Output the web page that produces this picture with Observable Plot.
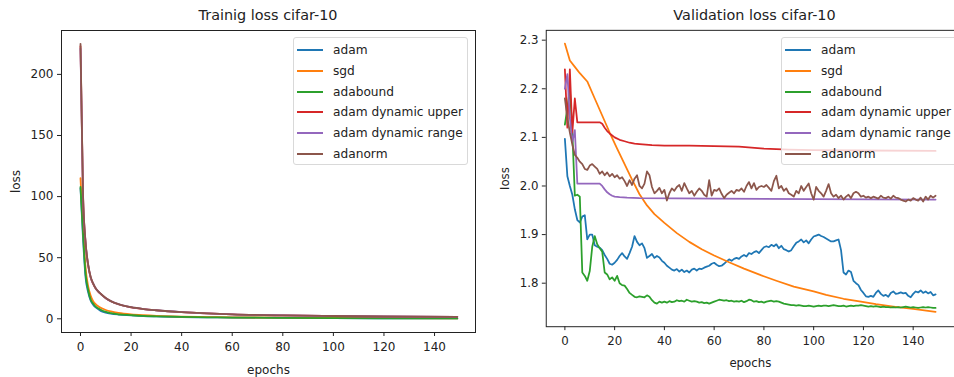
<!DOCTYPE html>
<html>
<head>
<meta charset="utf-8">
<script src="https://cdn.jsdelivr.net/npm/d3@7"></script>
<script src="https://cdn.jsdelivr.net/npm/@observablehq/plot@0.6"></script>
<style>
  html, body { margin: 0; padding: 0; background: #fff; }
  #wrap { position: relative; width: 954px; height: 377px; overflow: hidden; font-family: "DejaVu Sans", sans-serif; color: #222; }
  .title { position: absolute; top: 7px; text-align: center; font-size: 14.4px; line-height: 17px; white-space: nowrap; }
  .panel { position: absolute; top: 22px; }
  .legend { position: absolute; top: 37px; height: 128px; background: rgba(255,255,255,0.8); border: 1px solid #d9d9d9; border-radius: 3px; box-sizing: border-box; }
  .row { position: absolute; left: 3px; height: 16px; font-size: 12.2px; line-height: 16px; white-space: nowrap; }
  .row .h { position: absolute; left: 0; top: 7px; width: 26px; height: 2px; }
  .row .t { position: absolute; left: 36px; top: 0; }
</style>
</head>
<body>
<div id="wrap"></div>
<script>
// ---------------- data ----------------
const seriesNames = ["adam", "sgd", "adabound", "adam dynamic upper", "adam dynamic range", "adanorm"];
const seriesColors = ["#1f77b4", "#ff7f0e", "#2ca02c", "#d62728", "#9467bd", "#8c564b"];
const xTicks = [0, 20, 40, 60, 80, 100, 120, 140];
const trainYTicks = [0, 50, 100, 150, 200];
const valYTicks = [1.8, 1.9, 2.0, 2.1, 2.2, 2.3];

// Training loss (sampled epochs, smooth curves)
const trainEpochs   = [0, 1, 2, 3, 4, 5, 6, 7, 8, 10, 12, 15, 20, 25, 30, 40, 50, 60, 80, 100, 120, 149];
const trainAdam     = [107, 66, 34, 22, 15, 11.5, 9.3, 7.9, 6.4, 5.0, 4.2, 3.5, 2.9, 2.3, 2.0, 1.5, 1.2, 1.0, 0.75, 0.55, 0.45, 0.3];
const trainSgd      = [115, 75, 42, 27, 19, 14.5, 12, 10.3, 9.0, 7.2, 6.0, 4.8, 3.6, 2.9, 2.4, 1.8, 1.45, 1.2, 0.9, 0.7, 0.55, 0.45];
const trainAdabound = [108, 70, 37, 24, 16, 12.5, 10, 8.6, 7.4, 5.6, 4.6, 3.7, 3.0, 2.4, 2.05, 1.55, 1.25, 1.05, 0.8, 0.6, 0.48, 0.35];
const trainUpper    = [223, 101, 62, 44, 34, 28.5, 24.8, 22.2, 20.3, 16.8, 14.4, 11.9, 9.4, 7.9, 6.9, 5.4, 4.4, 3.6, 2.75, 2.25, 1.85, 1.55];
const trainRange    = [221, 100, 62.5, 44.5, 34, 29, 25, 22.4, 20.4, 16.9, 14.5, 12, 9.5, 8.0, 7.0, 5.5, 4.45, 3.65, 2.8, 2.3, 1.9, 1.6];
const trainAdanorm  = [225, 102, 63, 45, 34.5, 29, 25, 22.5, 20.5, 17, 14.5, 12, 9.5, 8.0, 7.0, 5.5, 4.5, 3.7, 2.8, 2.3, 1.9, 1.6];

// Validation loss, per epoch 0..149
const valEpochs = d3.range(150);
const valAdam = [
  2.097, 2.02, 2.0, 1.982, 1.952, 1.93, 1.925, 1.937, 1.94, 1.89,
  1.9, 1.9, 1.878, 1.875, 1.873, 1.868, 1.858, 1.85, 1.84, 1.838,
  1.842, 1.848, 1.856, 1.862, 1.855, 1.85, 1.862, 1.875, 1.897, 1.885,
  1.878, 1.882, 1.872, 1.852, 1.856, 1.86, 1.852, 1.856, 1.853, 1.846,
  1.842, 1.836, 1.832, 1.828, 1.826, 1.829, 1.824, 1.828, 1.823, 1.826,
  1.822, 1.828, 1.83, 1.826, 1.83, 1.829, 1.832, 1.834, 1.836, 1.84,
  1.842, 1.838, 1.835, 1.836, 1.84, 1.845, 1.849, 1.846, 1.85, 1.852,
  1.85, 1.855, 1.858, 1.855, 1.862, 1.86, 1.864, 1.866, 1.862, 1.868,
  1.874, 1.876, 1.874, 1.879, 1.876, 1.88, 1.872, 1.877, 1.87, 1.868,
  1.865, 1.868, 1.876, 1.883, 1.886, 1.89, 1.884, 1.888, 1.882, 1.89,
  1.896, 1.898, 1.9, 1.897, 1.895, 1.892, 1.889, 1.886, 1.886, 1.888,
  1.89, 1.868, 1.822, 1.818, 1.826, 1.823, 1.805, 1.8, 1.796, 1.786,
  1.78, 1.773, 1.772, 1.774, 1.772, 1.78, 1.785, 1.778, 1.774, 1.776,
  1.772, 1.78, 1.783, 1.778, 1.779, 1.781, 1.779, 1.78, 1.774, 1.771,
  1.778, 1.783, 1.781, 1.785, 1.78, 1.783, 1.779, 1.782, 1.775, 1.777
];
const valAdabound = [
  2.126, 2.16, 2.2, 2.11, 1.98, 1.982, 1.978, 1.822, 1.815, 1.805,
  1.825, 1.875, 1.897, 1.88, 1.872, 1.865, 1.822, 1.818, 1.808, 1.812,
  1.805, 1.815, 1.8, 1.796, 1.795, 1.788, 1.78, 1.776, 1.772, 1.771,
  1.773, 1.772, 1.771, 1.775, 1.772, 1.765, 1.76, 1.758, 1.762, 1.76,
  1.762, 1.76, 1.763, 1.761, 1.762, 1.765, 1.763, 1.764, 1.762, 1.766,
  1.764, 1.762, 1.763, 1.762, 1.76, 1.761, 1.759, 1.76, 1.758, 1.76,
  1.762, 1.764, 1.766, 1.765, 1.764, 1.765, 1.763, 1.764, 1.762, 1.763,
  1.762, 1.764, 1.761, 1.763, 1.766, 1.765, 1.762, 1.763, 1.761, 1.762,
  1.76, 1.762, 1.763, 1.764, 1.762, 1.763, 1.762, 1.76, 1.758, 1.757,
  1.756, 1.755, 1.755, 1.754, 1.755, 1.754, 1.753, 1.753, 1.754, 1.753,
  1.752, 1.753, 1.754, 1.753, 1.754, 1.754, 1.753, 1.754, 1.755, 1.754,
  1.753, 1.753, 1.754, 1.752, 1.753, 1.754, 1.753, 1.754, 1.754, 1.755,
  1.754, 1.753, 1.752, 1.753, 1.752, 1.753, 1.752, 1.751, 1.752, 1.751,
  1.751, 1.75, 1.751, 1.75, 1.751, 1.75, 1.751, 1.752, 1.751, 1.75,
  1.751, 1.75, 1.749, 1.75, 1.751, 1.75, 1.751, 1.75, 1.749, 1.749
];
const valAdanorm = [
  2.18, 2.14, 2.11, 2.085, 2.064, 2.058, 2.05, 2.045, 2.035, 2.033,
  2.042, 2.045, 2.04, 2.035, 2.025, 2.03, 2.022, 2.028, 2.02, 2.025,
  2.018, 2.022, 2.015, 2.018, 2.01, 2.0, 2.012, 2.002, 2.015, 2.022,
  2.0, 1.995, 2.005, 2.03, 2.022, 1.998, 1.985, 1.99, 1.996, 1.985,
  1.992, 1.97, 1.985, 1.995, 1.99, 1.998, 2.002, 1.99, 2.006, 1.995,
  1.985, 1.99, 1.98, 1.988, 1.995, 1.99, 1.982, 1.978, 2.012, 1.98,
  1.992, 1.99, 1.995, 1.984, 1.975, 1.982, 1.986, 1.99, 1.985, 1.992,
  1.99, 1.995, 1.988, 2.0, 2.008, 1.995, 2.006, 1.992, 1.998, 2.0,
  1.998, 2.002, 1.996, 1.99, 2.01, 2.021, 1.995, 2.0, 1.99, 1.995,
  1.985, 1.982, 1.978, 1.99, 1.985, 2.0, 1.99, 1.998, 2.005, 1.985,
  1.972, 1.998, 1.99, 1.985, 1.978, 1.99, 2.004, 1.985, 1.978, 1.982,
  1.975, 1.98, 1.972, 1.978, 1.982, 1.975, 1.985, 1.988, 1.985, 1.978,
  1.98, 1.976, 1.978, 1.975, 1.978, 1.976, 1.974, 1.98, 1.976, 1.975,
  1.978, 1.974, 1.98, 1.976, 1.975, 1.972, 1.97, 1.968, 1.972, 1.97,
  1.975, 1.972, 1.97, 1.976, 1.968, 1.978, 1.972, 1.98, 1.976, 1.98
];
// smoother validation series (sampled epochs)
const valSgdEpochs = [0, 2, 4, 6, 9, 12, 15, 18, 21, 24, 27, 30, 33, 36, 40, 45, 50, 55, 60, 66, 72, 79, 85, 92, 100, 105, 112, 119, 125, 132, 140, 149];
const valSgd       = [2.293, 2.258, 2.245, 2.232, 2.215, 2.18, 2.145, 2.11, 2.077, 2.045, 2.013, 1.983, 1.96, 1.942, 1.924, 1.903, 1.885, 1.87, 1.857, 1.843, 1.83, 1.816, 1.805, 1.793, 1.783, 1.776, 1.768, 1.762, 1.757, 1.752, 1.747, 1.741];
const valUpperEpochs = [0, 1, 2, 3, 4, 5, 14, 15, 16, 17, 18, 19, 20, 22, 24, 26, 28, 30, 35, 40, 50, 60, 70, 80, 90, 100, 120, 149];
const valUpper       = [2.24, 2.12, 2.24, 2.11, 2.18, 2.131, 2.131, 2.128, 2.12, 2.113, 2.108, 2.104, 2.1, 2.095, 2.092, 2.089, 2.087, 2.086, 2.084, 2.083, 2.083, 2.082, 2.081, 2.077, 2.075, 2.074, 2.073, 2.072];
const valRangeEpochs = [0, 1, 2, 3, 4, 5, 14, 15, 16, 17, 18, 19, 20, 22, 25, 30, 60, 100, 149];
const valRange       = [2.2, 2.23, 2.14, 2.09, 2.115, 2.005, 2.005, 2.0, 1.993, 1.987, 1.983, 1.98, 1.978, 1.977, 1.976, 1.975, 1.974, 1.973, 1.972];

// ---------------- build ----------------
const trainSeries = [
  [trainEpochs, trainAdam], [trainEpochs, trainSgd], [trainEpochs, trainAdabound],
  [trainEpochs, trainUpper], [trainEpochs, trainRange], [trainEpochs, trainAdanorm]
];
const valSeries = [
  [valEpochs, valAdam], [valSgdEpochs, valSgd], [valEpochs, valAdabound],
  [valUpperEpochs, valUpper], [valRangeEpochs, valRange], [valEpochs, valAdanorm]
];
const toRows = (xs, ys) => xs.map((e, i) => ({epoch: e, loss: ys[i]}));

const font = {fontFamily: "DejaVu Sans, sans-serif", fontSize: "12px", color: "#222", background: "transparent", overflow: "visible"};

function panel({width, marginLeft, marginRight, xDomain, yDomain, yTicks, yFmt, series, curve, yLabelOffset}) {
  return Plot.plot({
    width, height: 355, marginLeft, marginRight, marginTop: 8, marginBottom: 45,
    style: font,
    x: {domain: xDomain},
    y: {domain: yDomain},
    marks: [
      ...series.map(([xs, ys], i) => Plot.line(toRows(xs, ys), {
        x: "epoch", y: "loss", stroke: seriesColors[i], strokeWidth: 1.8, curve
      })),
      Plot.frame({stroke: "#222", strokeWidth: 1}),
      Plot.axisX({ticks: xTicks, tickSize: 4, tickPadding: 6, tickFormat: d => String(d),
        label: "epochs", labelAnchor: "center", labelOffset: 41, labelArrow: false}),
      Plot.axisY({ticks: yTicks, tickSize: 4, tickPadding: 4, tickFormat: yFmt,
        label: "loss", labelAnchor: "center", labelOffset: yLabelOffset, labelArrow: false})
    ]
  });
}

const wrap = document.getElementById("wrap");

function addTitle(text, left, width) {
  const d = document.createElement("div");
  d.className = "title"; d.textContent = text;
  d.style.left = left + "px"; d.style.width = width + "px";
  wrap.appendChild(d);
}
function addPanel(node, left) {
  const d = document.createElement("div");
  d.className = "panel"; d.style.left = left + "px";
  d.appendChild(node); wrap.appendChild(d);
}
function addLegend(left, width) {
  const lg = document.createElement("div");
  lg.className = "legend"; lg.style.left = left + "px"; lg.style.width = width + "px";
  seriesNames.forEach((name, i) => {
    const r = document.createElement("div");
    r.className = "row"; r.style.top = (4 + i * 20.8) + "px";
    const h = document.createElement("div"); h.className = "h"; h.style.background = seriesColors[i];
    const t = document.createElement("div"); t.className = "t"; t.textContent = name;
    r.appendChild(h); r.appendChild(t); lg.appendChild(r);
  });
  wrap.appendChild(lg);
}

addTitle("Trainig loss cifar-10", 61, 414);
addPanel(panel({
  width: 480, marginLeft: 61, marginRight: 5,
  xDomain: [-7.51, 156.2], yDomain: [-11.2, 235.9],
  yTicks: trainYTicks, yFmt: d => String(d), series: trainSeries, curve: "monotone-x", yLabelOffset: 50
}), 0);
addLegend(293, 175);

addTitle("Validation loss cifar-10", 547, 415);
addPanel(panel({
  width: 483, marginLeft: 67, marginRight: 0,
  xDomain: [-7.49, 156.6], yDomain: [1.7105, 2.3202],
  yTicks: valYTicks, yFmt: d => d.toFixed(1), series: valSeries, curve: "linear", yLabelOffset: 46
}), 480);
addLegend(781, 180);
</script>
</body>
</html>
